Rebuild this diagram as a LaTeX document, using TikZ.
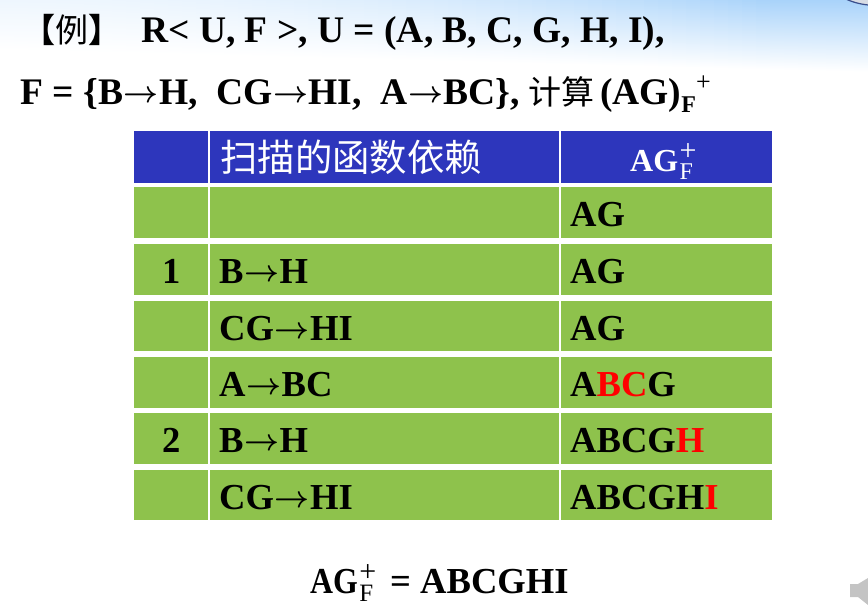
\documentclass[tikz,border=0pt]{standalone}
\usepackage{fontspec}
\usepackage{graphicx}
\setmainfont{Liberation Serif}
\newfontfamily\cjk{Noto Sans CJK SC}
\definecolor{hdr}{HTML}{2D36BC}
\definecolor{grn}{HTML}{8EC24C}
\definecolor{sky}{HTML}{A9D3FA}
\definecolor{spk}{HTML}{C4C4C4}
\definecolor{logoedge}{HTML}{3A4F8C}
\definecolor{logofill}{HTML}{D8DCE4}
\newcommand{\arr}{\kern.5pt\raisebox{1.5pt}{\resizebox{35pt}{!}{\boldmath$\rightarrow$}}\kern.5pt}
\newcommand{\sz}[1]{\fontsize{#1}{#1}\selectfont}
\newcommand{\agf}{{\sz{32}AG}\kern1.5pt\rlap{\raisebox{10.5pt}{\sz{30}\mdseries +}}\raisebox{-8.5pt}{\sz{24}\mdseries F}}
\newcommand{\agr}{\scalebox{.87}[1]{AG}\kern1.5pt\rlap{\raisebox{11.5pt}{\sz{30}\mdseries +}}\raisebox{-8.5pt}{\sz{25}\mdseries F}}
\tikzset{
 x=1pt,y=-1pt,
 hcell/.style={fill=hdr,draw=none},
 gcell/.style={fill=grn,draw=none},
 txt/.style={font=\sz{36.6}\bfseries,anchor=base west,inner sep=0pt,text=black},
 title/.style={font=\sz{37.5}\bfseries,anchor=base west,inner sep=0pt,text=black},
 head/.style={font=\sz{36.6}\bfseries,anchor=base west,inner sep=0pt,text=white},
}
\begin{document}
\begin{tikzpicture}
\useasboundingbox (0,0) rectangle (868,605);
\begin{scope}
\clip (0,0) rectangle (868,605);
\foreach \x [evaluate=\x as \p using {min(100,20+80*(\x/760)*(\x/760))},
             evaluate=\x as \h using {50+22*(\x/868)}] in {0,14,...,868}{
 \shade[top color=sky!\p!white,bottom color=white] (\x,0) rectangle (\x+14.5,\h);
}
\draw[fill=logofill,draw=logoedge,line width=1.2pt] (875,-65.5) circle[radius=70.8];
\end{scope}
\foreach \t/\b in {187/238,244/295,301/351,357/408,413/464,470/520}{
 \fill[gcell] (133.5,\t) rectangle (207.5,\b);
 \fill[gcell] (209.5,\t) rectangle (558.5,\b);
 \fill[gcell] (560.5,\t) rectangle (772,\b);
}
\fill[hcell] (133.5,131) rectangle (207.5,183);
\fill[hcell] (209.5,131) rectangle (558.5,183);
\fill[hcell] (560.5,131) rectangle (772,183);
\node[title] (t0) at (22,42) {\cjk\sz{33}【{\mdseries 例}】};
\node[title] (t1) at (141,42) {R< U, F >, U = (A, B, C, G, H, I),};
\node[title] (t2) at (20,104) {F = \{B\arr H,\ \ CG\arr HI,\ \ A\arr BC\},};
\node[title] (t3) at (528,104) {\cjk\mdseries\sz{33}计算};
\node[title] (t4) at (600,104) {(AG)\raisebox{-8pt}{\sz{24}F}\raisebox{14pt}{\sz{26}\mdseries +}};
\node[head] (h2) at (220,171) {\cjk\mdseries\sz{37.4}扫描的函数依赖};
\node[head] (h3) at (630,171) {\agf};
\node[txt] (a0) at (570,226) {AG};
\node[txt] (n1) at (162,283) {1};
\node[txt] (b1) at (219,283) {B\arr H};
\node[txt] (a1) at (570,283) {AG};
\node[txt] (b2) at (219,340) {CG\arr HI};
\node[txt] (a2) at (570,340) {AG};
\node[txt] (b3) at (219,396) {A\arr BC};
\node[txt] (a3) at (570,396) {A\textcolor{red}{BC}G};
\node[txt] (n2) at (162,452) {2};
\node[txt] (b4) at (219,452) {B\arr H};
\node[txt] (a4) at (570,452) {ABCG\textcolor{red}{H}};
\node[txt] (b5) at (219,509) {CG\arr HI};
\node[txt] (a5) at (570,509) {ABCGH\textcolor{red}{I}};
\node[txt] (res) at (310,593) {\agr};
\node[txt] (res2) at (390,593) {= ABCGHI};
\fill[spk] (868,578) -- (858,584) -- (850,584) -- (850,597) -- (858,597) -- (868,605) -- cycle;
\end{tikzpicture}
\end{document}
